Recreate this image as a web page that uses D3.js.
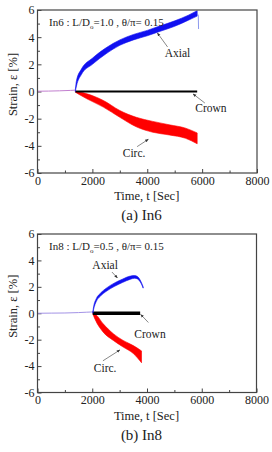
<!DOCTYPE html>
<html>
<head>
<meta charset="utf-8">
<script src="https://cdn.jsdelivr.net/npm/d3@7"></script>
<style>
body { margin: 0; background: #fff; }
text { font-family: "Liberation Serif", "Times New Roman", serif; fill: #222; }
</style>
</head>
<body>
<div id="chart"></div>
<script>
/**
 * Data (time in sec, strain in %)
 */
var xTicks = [0, 2000, 4000, 6000, 8000];
var xMinor = [1000, 3000, 5000, 7000];
var yTicks = [-6, -4, -2, 0, 2, 4, 6];
var yMinor = [-5, -3, -1, 1, 3, 5];

// (a) In6
var in6PreTime = [0, 400, 800, 1200, 1380];
var in6PreStrain = [0.02, 0.03, 0.05, 0.08, 0.1];
var in6AxialTime = [1380, 1420, 1600, 2000, 2500, 3000, 3500, 4000, 4500, 5000, 5500, 5820];
var in6AxialUpper = [0.15, 0.8, 1.65, 2.45, 3.22, 3.8, 4.2, 4.5, 4.85, 5.2, 5.62, 5.95];
var in6AxialLower = [0.0, 0.4, 1.25, 2.0, 2.78, 3.4, 3.8, 4.1, 4.45, 4.8, 5.25, 5.55];
var in6TailTime = [5820, 5860, 5870];
var in6TailStrain = [5.75, 5.6, 4.6];
var in6CrownTime = [1380, 5820];
var in6CrownStrain = [0, 0];
var in6CircTime = [1380, 1500, 1800, 2400, 3000, 3600, 4200, 4800, 5400, 5820];
var in6CircUpper = [0, -0.02, -0.17, -0.66, -1.4, -1.9, -2.2, -2.45, -2.7, -3.05];
var in6CircLower = [-0.05, -0.2, -0.54, -1.15, -1.9, -2.6, -3.0, -3.2, -3.45, -3.85];

// (b) In8
var in8PreTime = [0, 500, 1000, 1500, 1800, 2020];
var in8PreStrain = [0.0, 0.01, 0.02, 0.05, 0.08, 0.1];
var in8AxialTime = [2020, 2050, 2150, 2300, 2500, 2800, 3100, 3400, 3550, 3650, 3750, 3860];
var in8AxialUpper = [0.1, 0.5, 1.12, 1.52, 1.88, 2.28, 2.58, 2.82, 2.85, 2.78, 2.52, 2.0];
var in8AxialLower = [0.0, 0.3, 0.9, 1.3, 1.64, 2.02, 2.32, 2.58, 2.65, 2.6, 2.38, 1.9];
var in8CrownTime = [2020, 3750];
var in8CrownStrain = [0, 0];
var in8CircTime = [2020, 2100, 2400, 2770, 3130, 3500, 3800];
var in8CircUpper = [0, -0.05, -0.8, -1.55, -2.06, -2.45, -2.85];
var in8CircLower = [-0.05, -0.45, -1.43, -2.06, -2.56, -3.05, -3.75];

// panel texts; label positions in data units
var panels = [
	{
		top: 10, bottom: 173, left: 37.5, right: 257,
		id: "In6", caption: "(a)  In6", ratio: "1.0",
		preTime: in6PreTime, preStrain: in6PreStrain, preColor: "#c27fcf",
		axialTime: in6AxialTime, axialUpper: in6AxialUpper, axialLower: in6AxialLower,
		tailTime: in6TailTime, tailStrain: in6TailStrain,
		crownTime: in6CrownTime, crownStrain: in6CrownStrain, crownWidth: 2,
		circTime: in6CircTime, circUpper: in6CircUpper, circLower: in6CircLower,
		labels: [
			{ text: "Axial", at: [5100, 2.83], from: [4740, 3.28], to: [4370, 4.31] },
			{ text: "Crown", at: [6320, -1.21], from: [6100, -0.85], to: [5670, -0.18] },
			{ text: "Circ.", at: [3520, -4.53], from: [3630, -4.06], to: [4040, -3.52] }
		]
	},
	{
		top: 234, bottom: 392.5, left: 37.5, right: 256.5,
		id: "In8", caption: "(b)  In8", ratio: "0.5",
		preTime: in8PreTime, preStrain: in8PreStrain, preColor: "#a393e6",
		axialTime: in8AxialTime, axialUpper: in8AxialUpper, axialLower: in8AxialLower,
		tailTime: null, tailStrain: null,
		crownTime: in8CrownTime, crownStrain: in8CrownStrain, crownWidth: 3.5,
		circTime: in8CircTime, circUpper: in8CircUpper, circLower: in8CircLower,
		labels: [
			{ text: "Axial", at: [2470, 3.65], from: [2720, 3.12], to: [2920, 2.67] },
			{ text: "Crown", at: [4110, -1.57], from: [4050, -0.70], to: [3770, -0.09] },
			{ text: "Circ.", at: [2470, -4.15], from: [2390, -3.6], to: [3010, -2.78] }
		]
	}
];

var svg = d3.select("#chart").append("svg")
	.attr("width", 272)
	.attr("height", 452);

svg.append("defs").append("marker")
	.attr("id", "arrow")
	.attr("viewBox", "0 0 10 10")
	.attr("refX", 9).attr("refY", 5)
	.attr("markerWidth", 5).attr("markerHeight", 5)
	.attr("orient", "auto")
	.append("path")
	.attr("d", "M0,1 L10,5 L0,9 Z")
	.attr("fill", "#333");

/**
 * Builds a band (area between upper and lower) from parallel arrays
 */
function band(time, upper, lower) {
	return time.map(function(t, i) { return { t: t, hi: upper[i], lo: lower[i] }; });
}

function pts(time, strain) {
	return time.map(function(t, i) { return { t: t, v: strain[i] }; });
}

function drawPanel(p) {
	var x = d3.scaleLinear().domain([0, 8000]).range([p.left, p.right]);
	var y = d3.scaleLinear().domain([-6, 6]).range([p.bottom, p.top]);
	var g = svg.append("g");

	var line = d3.line().x(function(d) { return x(d.t); }).y(function(d) { return y(d.v); });
	var area = d3.area()
		.x(function(d) { return x(d.t); })
		.y0(function(d) { return y(d.lo); })
		.y1(function(d) { return y(d.hi); })
		.curve(d3.curveMonotoneX);

	// x axis, ticks point inside
	g.append("g").attr("transform", "translate(0," + p.bottom + ")")
		.call(d3.axisBottom(x).tickValues(xTicks).tickSizeInner(-4).tickSizeOuter(0)
			.tickPadding(3).tickFormat(function(d) { return String(d); }));
	g.append("g").attr("transform", "translate(0," + p.bottom + ")")
		.call(d3.axisBottom(x).tickValues(xMinor).tickSizeInner(-2.5).tickSizeOuter(0).tickFormat(""));

	g.append("g").attr("transform", "translate(" + p.left + ",0)")
		.call(d3.axisLeft(y).tickValues(yTicks).tickSizeInner(-4).tickSizeOuter(0)
			.tickPadding(3).tickFormat(function(d) { return String(d); }));
	g.append("g").attr("transform", "translate(" + p.left + ",0)")
		.call(d3.axisLeft(y).tickValues(yMinor).tickSizeInner(-2.5).tickSizeOuter(0).tickFormat(""));

	g.selectAll(".domain").remove();
	g.selectAll(".tick line").attr("stroke", "#444");
	g.selectAll(".tick text").style("font-family", "Liberation Serif").style("font-size", "12px").attr("fill", "#222");

	// data
	g.append("path").datum(pts(p.preTime, p.preStrain))
		.attr("d", line).attr("fill", "none").attr("stroke", p.preColor).attr("stroke-width", 1);
	g.append("path").datum(band(p.circTime, p.circUpper, p.circLower))
		.attr("d", area).attr("fill", "#ff0000").attr("stroke", "#ff0000").attr("stroke-width", 0.6);
	g.append("path").datum(pts(p.crownTime, p.crownStrain))
		.attr("d", line).attr("fill", "none").attr("stroke", "#000").attr("stroke-width", p.crownWidth);
	g.append("path").datum(band(p.axialTime, p.axialUpper, p.axialLower))
		.attr("d", area).attr("fill", "#1010f0").attr("stroke", "#1010f0").attr("stroke-width", 0.6);
	if (p.tailTime) {
		g.append("path").datum(pts(p.tailTime, p.tailStrain))
			.attr("d", line).attr("fill", "none").attr("stroke", "#6f7fe8").attr("stroke-width", 0.8);
	}

	// frame
	g.append("rect")
		.attr("x", p.left).attr("y", p.top)
		.attr("width", p.right - p.left).attr("height", p.bottom - p.top)
		.attr("fill", "none").attr("stroke", "#444").attr("stroke-width", 1.2);

	// labels with arrows
	p.labels.forEach(function(l) {
		g.append("line")
			.attr("x1", x(l.from[0])).attr("y1", y(l.from[1]))
			.attr("x2", x(l.to[0])).attr("y2", y(l.to[1]))
			.attr("stroke", "#555").attr("stroke-width", 0.7)
			.attr("marker-end", "url(#arrow)");
		g.append("text")
			.attr("x", x(l.at[0])).attr("y", y(l.at[1]))
			.attr("text-anchor", "middle").attr("dy", "0.35em")
			.style("font-size", "11.5px")
			.text(l.text);
	});

	// case description
	var desc = g.append("text")
		.attr("x", p.left + 11.5).attr("y", p.top + 16)
		.style("font-size", "11px");
	desc.append("tspan").text(p.id + " : L/D");
	desc.append("tspan").attr("dy", 3).style("font-size", "7px").text("o");
	desc.append("tspan").attr("dy", -3).text("=" + p.ratio + " , \u03b8/\u03c0= 0.15");

	// axis titles and caption
	g.append("text")
		.attr("x", (p.left + p.right) / 2 - 0.5).attr("y", p.bottom + 27)
		.attr("text-anchor", "middle").style("font-size", "12.5px")
		.text("Time, t [Sec]");
	g.append("text")
		.attr("transform", "translate(13," + (y(0) - 7) + ") rotate(-90)")
		.attr("text-anchor", "middle").attr("dy", "0.35em").style("font-size", "12.5px")
		.text("Strain, \u03b5 [%]");
	g.append("text")
		.attr("x", 141.5).attr("y", p.bottom + 47)
		.attr("text-anchor", "middle").style("font-size", "15px")
		.text(p.caption);
}

panels.forEach(drawPanel);
</script>
</body>
</html>
